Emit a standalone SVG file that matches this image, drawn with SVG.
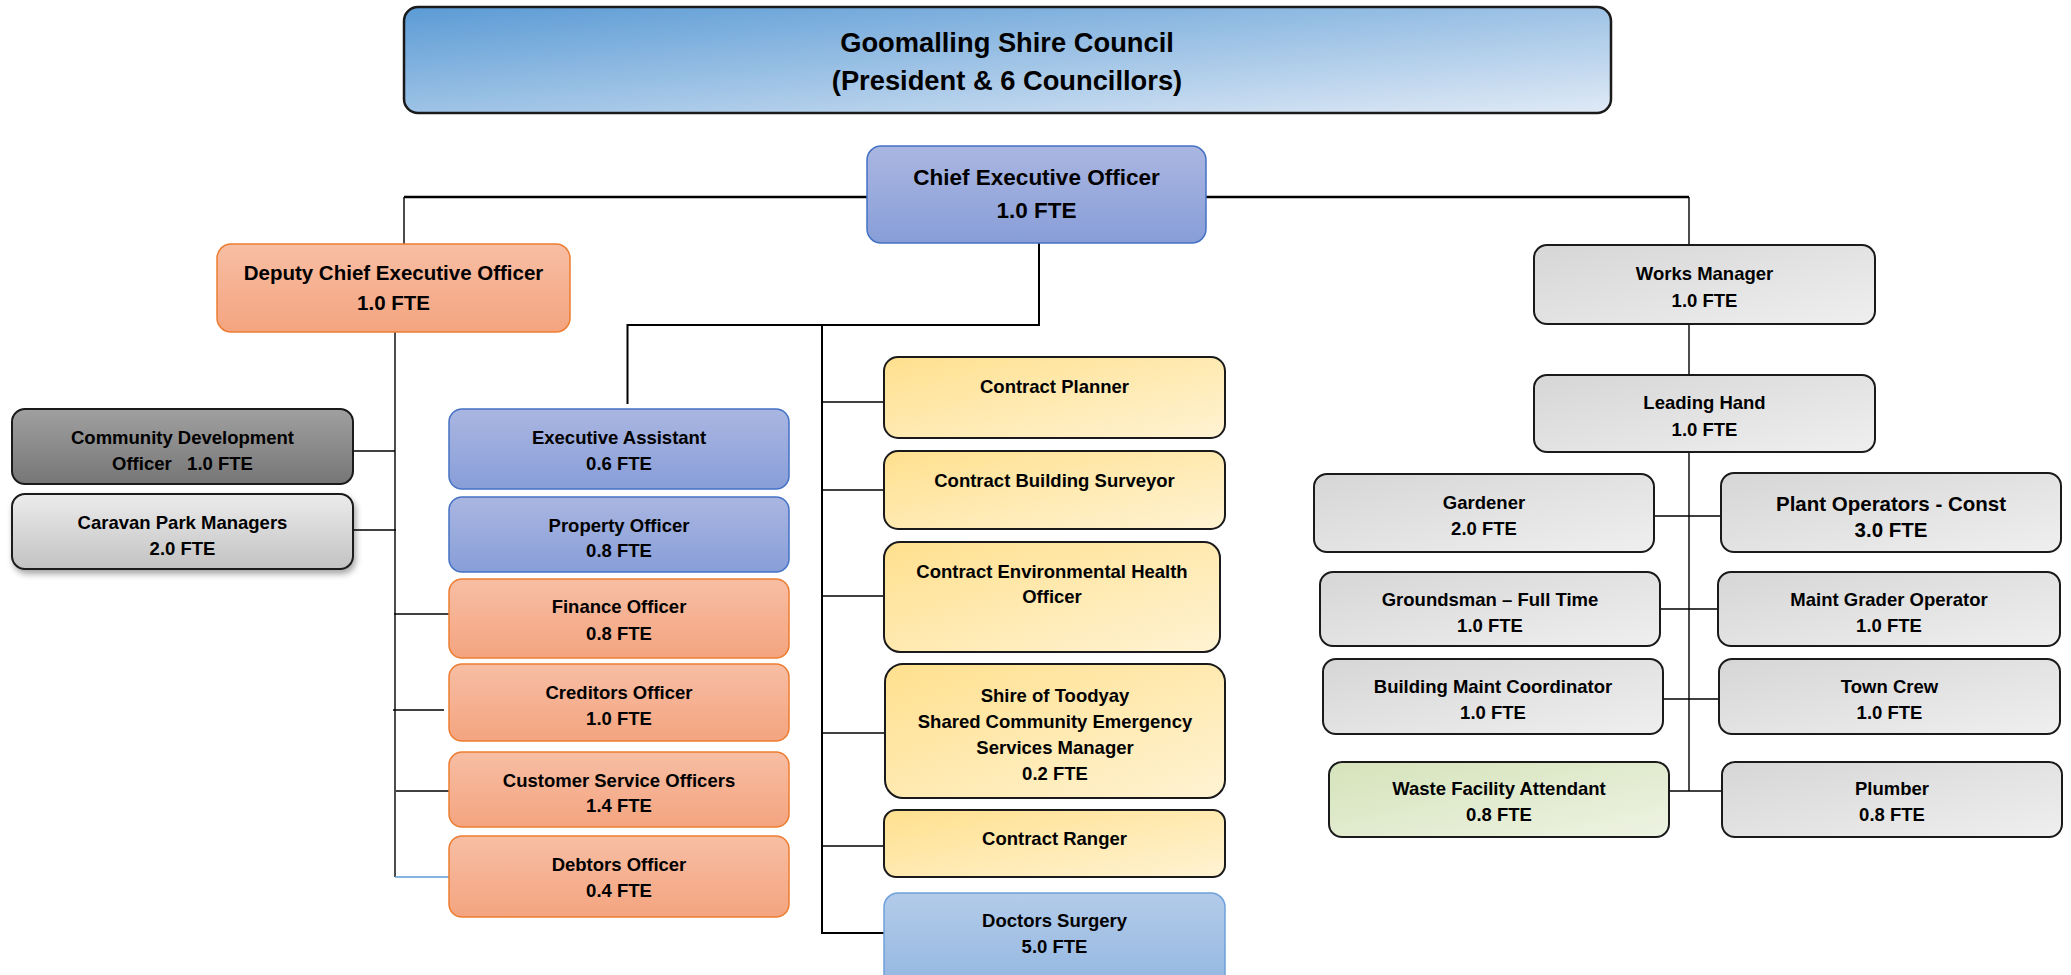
<svg xmlns="http://www.w3.org/2000/svg" width="2071" height="975" viewBox="0 0 2071 975">
<defs>
<linearGradient id="gCouncil" x1="0" y1="0" x2="1" y2="1"><stop offset="0" stop-color="#5b9bd5"/><stop offset="1" stop-color="#e0eaf6"/></linearGradient>
<linearGradient id="gBlue" x1="0" y1="0" x2="0" y2="1"><stop offset="0" stop-color="#aab6e1"/><stop offset="1" stop-color="#889ed8"/></linearGradient>
<linearGradient id="gOrange" x1="0" y1="0" x2="0" y2="1"><stop offset="0" stop-color="#f7bea4"/><stop offset="1" stop-color="#f4a47f"/></linearGradient>
<linearGradient id="gYellow" x1="0" y1="0" x2="1" y2="1"><stop offset="0" stop-color="#ffe08e"/><stop offset="1" stop-color="#fff3d3"/></linearGradient>
<linearGradient id="gGray" x1="0" y1="0" x2="1" y2="1"><stop offset="0" stop-color="#d6d6d6"/><stop offset="1" stop-color="#efefef"/></linearGradient>
<linearGradient id="gGreen" x1="0" y1="0" x2="1" y2="1"><stop offset="0" stop-color="#d5e3ba"/><stop offset="1" stop-color="#eef3e3"/></linearGradient>
<linearGradient id="gDoc" x1="0" y1="0" x2="0" y2="1"><stop offset="0" stop-color="#b3cbe9"/><stop offset="1" stop-color="#93b7e1"/></linearGradient>
<linearGradient id="gDark" x1="0" y1="0" x2="0" y2="1"><stop offset="0" stop-color="#a0a0a0"/><stop offset="1" stop-color="#767676"/></linearGradient>
<linearGradient id="gLight" x1="0" y1="0" x2="0" y2="1"><stop offset="0" stop-color="#ececec"/><stop offset="1" stop-color="#c2c2c2"/></linearGradient>
<filter id="shadow" x="-10%" y="-20%" width="130%" height="160%"><feDropShadow dx="2" dy="4" stdDeviation="3" flood-color="#000" flood-opacity="0.35"/></filter>
</defs>
<style>
text{font-family:"Liberation Sans",Arial,sans-serif;font-weight:bold;fill:#000;text-anchor:middle;font-size:18.5px}
.big{font-size:27.3px}
.ceo{font-size:22.5px}
.md{font-size:20.5px}
.council{fill:url(#gCouncil);stroke:#1a1a1a;stroke-width:2.5}
.blue{fill:url(#gBlue);stroke:#4472c4;stroke-width:1.5}
.orange{fill:url(#gOrange);stroke:#ed7d31;stroke-width:1.5}
.yellow{fill:url(#gYellow);stroke:#1a1a1a;stroke-width:2}
.gray{fill:url(#gGray);stroke:#1a1a1a;stroke-width:2}
.green{fill:url(#gGreen);stroke:#1a1a1a;stroke-width:2}
.doc{fill:url(#gDoc);stroke:#6fa0da;stroke-width:1.5}
.dark{fill:url(#gDark);stroke:#1a1a1a;stroke-width:2}
.light{fill:url(#gLight);stroke:#1a1a1a;stroke-width:2}
.c{fill:none;stroke:#000;stroke-width:1.4}
.c2{fill:none;stroke:#000;stroke-width:2}
.c3{fill:none;stroke:#000;stroke-width:2.6}
</style>
<g id="connectors">
<path class="c3" d="M404 197 H867"/>
<path class="c" d="M404 197 V244"/>
<path class="c3" d="M1206 197 H1689"/>
<path class="c" d="M1689 197 V245"/>
<path class="c" d="M1689 324 V375"/>
<path class="c" d="M1689 452 V791"/>
<path class="c" d="M1654 516 H1721"/>
<path class="c" d="M1660 609 H1718"/>
<path class="c" d="M1663 699 H1719"/>
<path class="c" d="M1669 791 H1722"/>
<path class="c2" d="M1039 243 V325 H627.5 V404"/>
<path class="c2" d="M822 325 V933 H884"/>
<path class="c" d="M822 402 H884"/>
<path class="c" d="M822 490 H884"/>
<path class="c" d="M822 596 H884"/>
<path class="c" d="M822 733 H885"/>
<path class="c" d="M822 846 H884"/>
<path class="c" d="M395 332 V877"/>
<path class="c" d="M353 451 H395"/>
<path class="c" d="M353 530 H396"/>
<path class="c" d="M394 614 H449"/>
<path class="c" d="M393 710 H444"/>
<path class="c" d="M396 791 H449"/>
<path class="c" style="stroke:#5b9bd5" d="M395 877 H449"/>
</g>
<g id="council"><rect class="council" x="404" y="7" width="1207" height="106" rx="14"/><text class="big" x="1007" y="52">Goomalling Shire Council</text><text class="big" x="1007" y="90">(President &amp; 6 Councillors)</text></g>
<g id="ceo"><rect class="blue" x="867" y="146" width="339" height="97" rx="14"/><text class="ceo" x="1036.5" y="185">Chief Executive Officer</text><text class="ceo" x="1036.5" y="218">1.0 FTE</text></g>
<g id="deputy"><rect class="orange" x="217" y="244" width="353" height="88" rx="14"/><text class="md" x="393.5" y="280">Deputy Chief Executive Officer</text><text class="md" x="393.5" y="310">1.0 FTE</text></g>
<g id="community-dev"><rect class="dark" x="12" y="409" width="341" height="75" rx="13"/><text x="182.5" y="444">Community Development</text><text x="182.5" y="470" xml:space="preserve" style="white-space:pre">Officer   1.0 FTE</text></g>
<g id="caravan"><rect class="light" filter="url(#shadow)" x="12" y="494" width="341" height="75" rx="13"/><text x="182.5" y="529">Caravan Park Managers</text><text x="182.5" y="555">2.0 FTE</text></g>
<g id="exec-assistant"><rect class="blue" x="449" y="409" width="340" height="80" rx="13"/><text x="619" y="444">Executive Assistant</text><text x="619" y="470">0.6 FTE</text></g>
<g id="property"><rect class="blue" x="449" y="497" width="340" height="75" rx="13"/><text x="619" y="532">Property Officer</text><text x="619" y="557">0.8 FTE</text></g>
<g id="finance"><rect class="orange" x="449" y="579" width="340" height="79" rx="13"/><text x="619" y="613">Finance Officer</text><text x="619" y="640">0.8 FTE</text></g>
<g id="creditors"><rect class="orange" x="449" y="664" width="340" height="77" rx="13"/><text x="619" y="699">Creditors Officer</text><text x="619" y="725">1.0 FTE</text></g>
<g id="customer-service"><rect class="orange" x="449" y="752" width="340" height="75" rx="13"/><text x="619" y="787">Customer Service Officers</text><text x="619" y="812">1.4 FTE</text></g>
<g id="debtors"><rect class="orange" x="449" y="836" width="340" height="81" rx="13"/><text x="619" y="871">Debtors Officer</text><text x="619" y="897">0.4 FTE</text></g>
<g id="contract-planner"><rect class="yellow" x="884" y="357" width="341" height="81" rx="14"/><text x="1054.5" y="393">Contract Planner</text></g>
<g id="building-surveyor"><rect class="yellow" x="884" y="451" width="341" height="78" rx="14"/><text x="1054.5" y="487">Contract Building Surveyor</text></g>
<g id="env-health"><rect class="yellow" x="884" y="542" width="336" height="110" rx="16"/><text x="1052" y="578">Contract Environmental Health</text><text x="1052" y="603">Officer</text></g>
<g id="toodyay"><rect class="yellow" x="885" y="664" width="340" height="134" rx="18"/><text x="1055" y="702">Shire of Toodyay</text><text x="1055" y="728">Shared Community Emergency</text><text x="1055" y="754">Services Manager</text><text x="1055" y="780">0.2 FTE</text></g>
<g id="ranger"><rect class="yellow" x="884" y="810" width="341" height="67" rx="12"/><text x="1054.5" y="845">Contract Ranger</text></g>
<g id="doctors"><rect class="doc" x="884" y="893" width="341" height="95" rx="14"/><text x="1054.5" y="927">Doctors Surgery</text><text x="1054.5" y="953">5.0 FTE</text></g>
<g id="works-manager"><rect class="gray" x="1534" y="245" width="341" height="79" rx="13"/><text x="1704.5" y="280">Works Manager</text><text x="1704.5" y="307">1.0 FTE</text></g>
<g id="leading-hand"><rect class="gray" x="1534" y="375" width="341" height="77" rx="13"/><text x="1704.5" y="409">Leading Hand</text><text x="1704.5" y="436">1.0 FTE</text></g>
<g id="gardener"><rect class="gray" x="1314" y="474" width="340" height="78" rx="13"/><text x="1484" y="509">Gardener</text><text x="1484" y="535">2.0 FTE</text></g>
<g id="plant-operators"><rect class="gray" x="1721" y="473" width="340" height="79" rx="13"/><text class="md" x="1891" y="511">Plant Operators - Const</text><text class="md" x="1891" y="537">3.0 FTE</text></g>
<g id="groundsman"><rect class="gray" x="1320" y="572" width="340" height="74" rx="13"/><text x="1490" y="606">Groundsman – Full Time</text><text x="1490" y="632">1.0 FTE</text></g>
<g id="grader"><rect class="gray" x="1718" y="572" width="342" height="74" rx="13"/><text x="1889" y="606">Maint Grader Operator</text><text x="1889" y="632">1.0 FTE</text></g>
<g id="building-maint"><rect class="gray" x="1323" y="659" width="340" height="75" rx="13"/><text x="1493" y="693">Building Maint Coordinator</text><text x="1493" y="719">1.0 FTE</text></g>
<g id="town-crew"><rect class="gray" x="1719" y="659" width="341" height="75" rx="13"/><text x="1889.5" y="693">Town Crew</text><text x="1889.5" y="719">1.0 FTE</text></g>
<g id="waste"><rect class="green" x="1329" y="762" width="340" height="75" rx="13"/><text x="1499" y="795">Waste Facility Attendant</text><text x="1499" y="821">0.8 FTE</text></g>
<g id="plumber"><rect class="gray" x="1722" y="762" width="340" height="75" rx="13"/><text x="1892" y="795">Plumber</text><text x="1892" y="821">0.8 FTE</text></g>
</svg>
